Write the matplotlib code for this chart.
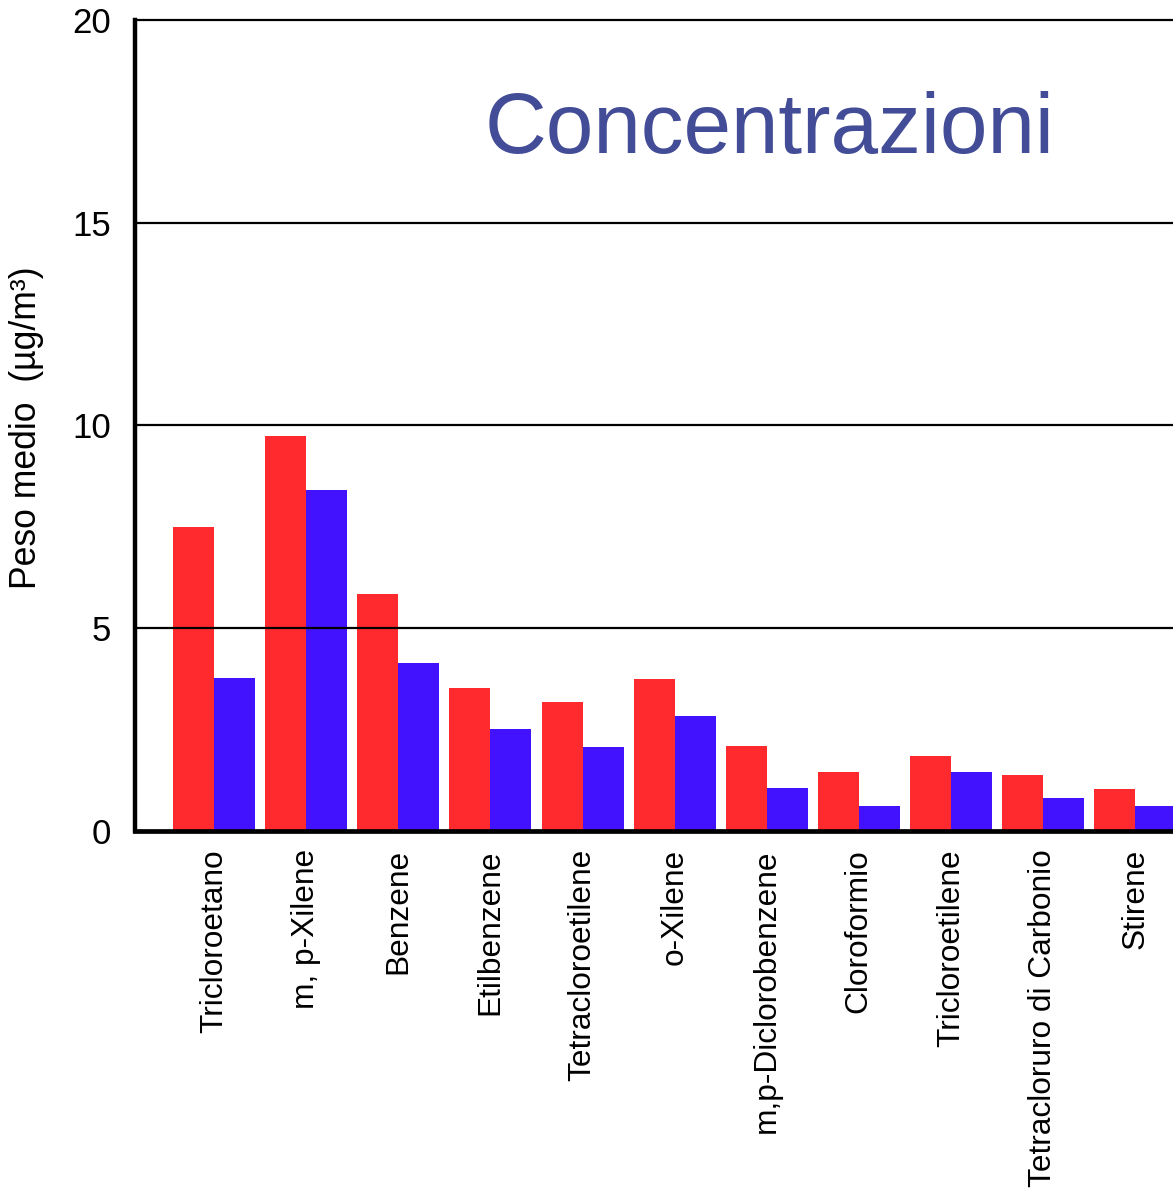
import numpy as np
import matplotlib
matplotlib.use("Agg")
from matplotlib import pyplot as plt

plt.rcParams['font.family'] = ['Liberation Sans', 'DejaVu Sans']

# data
categories = ["Tricloroetano", "m, p-Xilene", "Benzene", "Etilbenzene",
              "Tetracloroetilene", "o-Xilene", "m,p-Diclorobenzene",
              "Cloroformio", "Tricloroetilene", "Tetracloruro di Carbonio",
              "Stirene"]
red_values = [7.50, 9.74, 5.84, 3.53, 3.18, 3.75, 2.10, 1.46, 1.85, 1.38, 1.04]
blue_values = [3.77, 8.41, 4.14, 2.52, 2.07, 2.84, 1.06, 0.62, 1.46, 0.81, 0.62]
y_ticks = [0, 5, 10, 15, 20]

W, H = 1173, 1192
fig = plt.figure(figsize=(W / 100, H / 100), dpi=100)
ax = fig.add_axes([135 / W, (H - 831) / H, 1 - 135 / W, 811 / H])

x = np.arange(len(categories))
bw = 0.445
ax.bar(x - bw / 2, red_values, width=bw, color="#FF2A2D", zorder=2)
ax.bar(x + bw / 2, blue_values, width=bw, color="#4212FF", zorder=2)

# horizontal gridlines drawn over the bars
for v in y_ticks[1:-1]:
    ax.axhline(v, color="black", lw=1.6, zorder=3)

ax.set_xlim(-0.858, 10.41)
ax.set_ylim(0, 20)
ax.set_yticks(y_ticks)
ax.set_xticks(x)
ax.set_xticklabels(categories, rotation=90, va="top", ha="center")
ax.tick_params(axis="both", length=0)
ax.tick_params(axis="y", labelsize=25, pad=17)
ax.tick_params(axis="x", labelsize=22.8, pad=13)

ax.spines["right"].set_visible(False)
ax.spines["left"].set_linewidth(3.2)
ax.spines["bottom"].set_linewidth(3.4)
ax.spines["top"].set_linewidth(1.6)
for s in ax.spines.values():
    s.set_zorder(4)

fig.text(27 / W, 1 - 428 / H, "Peso medio  (µg/m³)", rotation=90,
         ha="center", va="center", fontsize=25.6)
fig.text(770 / W, 1 - 131 / H, "Concentrazioni", ha="center", va="center",
         fontsize=61.6, color="#434C96")

fig.savefig("out.png", dpi=100, facecolor="white")
